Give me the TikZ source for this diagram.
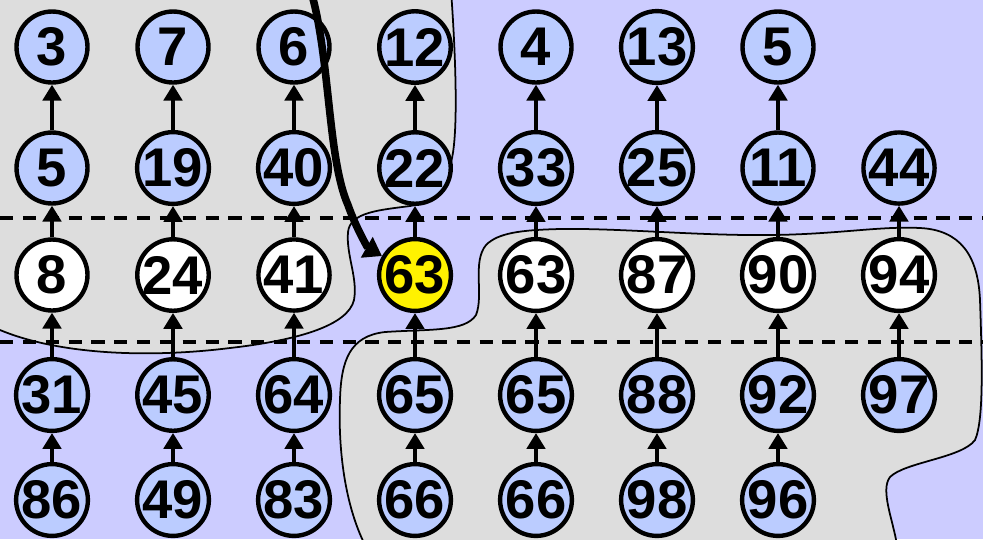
\documentclass[tikz,border=0pt]{standalone}
\usepackage{fontspec}
\setsansfont{Liberation Sans}
\usetikzlibrary{arrows.meta}
\definecolor{lavender}{RGB}{204,204,255}
\definecolor{keyblue}{RGB}{187,204,255}
\definecolor{blobgrey}{RGB}{221,221,221}

\begin{document}
\begin{tikzpicture}[
        x=0.02cm, y=-0.02cm,
        key/.style={circle, draw=black, line width=2.5pt, fill=keyblue, minimum size=1.42cm, inner sep=0pt, font=\sffamily\bfseries\fontsize{31}{31}\selectfont},
        pivot/.style={key, fill=white},
        hit/.style={key, fill=yellow},
        blob/.style={fill=blobgrey, draw=black, line width=1pt},
        sep/.style={dash pattern=on 7.5pt off 5.5pt, line width=2.2pt},
        up/.style={-{Triangle[width=10.5pt,length=9pt]}, line width=2pt},
        probe/.style={-{Triangle[width=13pt,length=10pt]}, line width=4.3pt}
    ]

    \useasboundingbox (0,0) rectangle (983,539);
    \fill[lavender] (0,0) rectangle (983,539);

    % ==========================================
    % GREY REGIONS
    % ==========================================
    \begin{scope}
        \clip (0,0) rectangle (983,539);
        % upper left
        \draw[blob] (-10,-10) -- (451,-10) .. controls (456,60) and (458,130) .. (452,158)
            .. controls (445,190) and (430,203) .. (410,206)
            .. controls (380,210) and (350,212) .. (348,232)
            .. controls (346,255) and (358,278) .. (354,300)
            .. controls (348,325) and (300,340) .. (230,348)
            .. controls (150,358) and (60,355) .. (0,330) -- (-10,330) -- cycle;
        % lower right
        \draw[blob] (365,545) .. controls (345,505) and (338,450) .. (340,400)
            .. controls (341,360) and (350,336) .. (385,332)
            .. controls (430,329) and (465,332) .. (476,315)
            .. controls (484,295) and (472,262) .. (486,245)
            .. controls (498,233) and (520,230) .. (560,229)
            .. controls (620,228) and (700,236) .. (773,235)
            .. controls (840,234) and (880,226) .. (920,228)
            .. controls (960,230) and (978,255) .. (980,300)
            .. controls (982,360) and (984,420) .. (975,440)
            .. controls (962,458) and (905,462) .. (890,477)
            .. controls (880,490) and (893,520) .. (897,545) -- cycle;
    \end{scope}

    % dashed separators
    \draw[sep] (0,218) -- (983,218);
    \draw[sep] (0,342) -- (983,342);

    % ==========================================
    % NODES, ROW BY ROW
    % ==========================================
    \foreach \v [count=\i from 0] in {3,7,6,12,4,13,5}
        \node[key] (a\i) at (52+121*\i,47) {\v};
    \foreach \v [count=\i from 0] in {5,19,40,22,33,25,11,44}
        \node[key] (b\i) at (52+121*\i,168) {\v};
    \foreach \v/\s [count=\i from 0] in {8/pivot,24/pivot,41/pivot,63/hit,63/pivot,87/pivot,90/pivot,94/pivot}
        \node[\s] (c\i) at (52+121*\i,275) {\v};
    \foreach \v [count=\i from 0] in {31,45,64,65,65,88,92,97}
        \node[key] (d\i) at (52+121*\i,395) {\v};
    \foreach \v [count=\i from 0] in {86,49,83,66,66,98,96}
        \node[key] (e\i) at (52+121*\i,500) {\v};

    % ==========================================
    % ARROWS
    % ==========================================
    \foreach \i in {0,...,6}
        \draw[up] (b\i) -- (a\i);
    \foreach \i in {0,...,7} {
        \draw[up] (c\i) -- (b\i);
        \draw[up] (d\i) -- (c\i);
    }
    \foreach \i in {0,...,6}
        \draw[up] (e\i) -- (d\i);

    % search path into the yellow key
    \coordinate (probestart) at (312,-5);
    \draw[probe] (probestart) .. controls (330,60) and (328,160) .. (348,205)
        .. controls (356,228) and (368,248) .. (c3);

\end{tikzpicture}
\end{document}
